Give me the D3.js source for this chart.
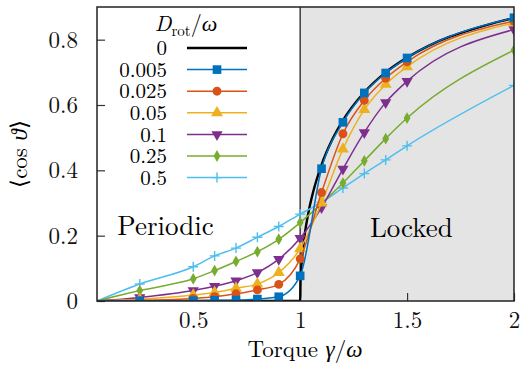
<!DOCTYPE html>
<html>
<head>
<meta charset="utf-8">
<script src="https://cdn.jsdelivr.net/npm/d3@7"></script>
<style>
  body { margin: 0; background: #fff; }
</style>
</head>
<body>
<div id="chart"></div>
<script>
// torque values where the markers sit
const torque = [0.05, 0.25, 0.5, 0.6, 0.7, 0.8, 0.9, 1.0, 1.1, 1.2, 1.3, 1.4, 1.5, 2.0];

const dLabels = ["0.005", "0.025", "0.05", "0.1", "0.25", "0.5"];
const d0005 = [0, 0.000, 0.001, 0.002, 0.003, 0.006, 0.013, 0.077, 0.405, 0.547, 0.637, 0.698, 0.744, 0.867];
const d0025 = [0, 0.002, 0.008, 0.013, 0.022, 0.034, 0.051, 0.129, 0.332, 0.512, 0.614, 0.682, 0.732, 0.857];
const d005  = [0, 0.005, 0.018, 0.026, 0.039, 0.052, 0.087, 0.160, 0.300, 0.465, 0.586, 0.663, 0.717, 0.852];
const d01   = [0, 0.011, 0.032, 0.045, 0.062, 0.087, 0.128, 0.192, 0.286, 0.404, 0.516, 0.608, 0.673, 0.831];
const d025  = [0, 0.032, 0.068, 0.093, 0.121, 0.151, 0.189, 0.240, 0.298, 0.361, 0.429, 0.497, 0.560, 0.768];
const d05   = [0, 0.052, 0.105, 0.138, 0.162, 0.195, 0.228, 0.266, 0.302, 0.346, 0.390, 0.432, 0.475, 0.660];

// noiseless curve (D_rot = 0)
const torqueDet = [0.05, 1.0, 1.002, 1.005, 1.01, 1.02, 1.04, 1.06, 1.1, 1.15, 1.2, 1.3, 1.4, 1.5, 1.6, 1.7, 1.8, 1.9, 2.0];
const cosDet    = [0, 0, 0.063, 0.100, 0.140, 0.197, 0.275, 0.332, 0.417, 0.494, 0.553, 0.639, 0.700, 0.745, 0.781, 0.809, 0.831, 0.850, 0.866];

const xTicks = [0.5, 1, 1.5, 2];
const yTicks = [0, 0.2, 0.4, 0.6, 0.8];

const colors = ["#0072BD", "#D95319", "#EDB120", "#7E2F8E", "#77AC30", "#4DBEEE"];
const symbols = [d3.symbolSquare, d3.symbolCircle, d3.symbolTriangle, "down", d3.symbolDiamond, "plus"];
const series = [d0005, d0025, d005, d01, d025, d05];

const FONT = "\"Latin Modern Roman\", \"Liberation Serif\", serif";
const W = 520, H = 365;
const margin = { top: 7, right: 6, bottom: 64, left: 97 };
const width = W - margin.left - margin.right;
const height = H - margin.top - margin.bottom;

const svg = d3.select("#chart").append("svg")
    .attr("width", W).attr("height", H)
    .attr("font-family", FONT);
const g = svg.append("g")
    .attr("transform", `translate(${margin.left},${margin.top})`);

const x = d3.scaleLinear().domain([0.05, 2]).range([0, width]);
const y = d3.scaleLinear().domain([0, 0.9]).range([height, 0]);

svg.append("defs").append("clipPath").attr("id", "clip")
    .append("rect").attr("width", width).attr("height", height);

// locked region
g.append("rect")
    .attr("x", x(1)).attr("y", 0)
    .attr("width", x(2) - x(1)).attr("height", height)
    .attr("fill", "#e4e4e4");
g.append("line")
    .attr("x1", x(1)).attr("x2", x(1)).attr("y1", 0).attr("y2", height)
    .attr("stroke", "#222").attr("stroke-width", 1.3);

// axes, ticks pointing inward
const xAxis = g.append("g").attr("transform", `translate(0,${height})`)
    .call(d3.axisBottom(x).tickValues(xTicks).tickSizeInner(-8).tickSizeOuter(0).tickPadding(11)
        .tickFormat(d => String(d)));
const yAxis = g.append("g")
    .call(d3.axisLeft(y).tickValues(yTicks).tickSizeInner(-8).tickSizeOuter(0).tickPadding(19)
        .tickFormat(d => String(d)));
[xAxis, yAxis].forEach(a => {
    a.attr("font-family", FONT).attr("font-size", 23);
    a.select(".domain").remove();
    a.selectAll(".tick line").attr("stroke", "#333").attr("stroke-width", 1.2);
    a.selectAll(".tick text").attr("fill", "#111");
});
xAxis.selectAll(".tick text").attr("dy", "0.71em");

function marker(sel, type, color) {
    if (type === "plus") {
        sel.append("path").attr("d", "M-5,0H5M0,-5V5")
            .attr("stroke", color).attr("stroke-width", 1.4).attr("fill", "none");
    } else if (type === "down") {
        sel.append("path").attr("d", d3.symbol(d3.symbolTriangle, 55)())
            .attr("transform", "rotate(180)").attr("fill", color);
    } else {
        const size = type === d3.symbolSquare ? 75 : type === d3.symbolDiamond ? 40 : 62;
        sel.append("path").attr("d", d3.symbol(type, size)()).attr("fill", color);
    }
}

const plot = g.append("g").attr("clip-path", "url(#clip)");
const line = d3.line().curve(d3.curveMonotoneX).x(d => x(d[0])).y(d => y(d[1]));

// black reference curve first
plot.append("path")
    .datum(torqueDet.map((t, i) => [t, cosDet[i]]))
    .attr("d", line).attr("fill", "none")
    .attr("stroke", "#000").attr("stroke-width", 2.4);

series.slice().reverse().forEach((vals, ri) => {
    const i = series.length - 1 - ri;
    const pts = torque.map((t, k) => [t, vals[k]]);
    plot.append("path").datum(pts).attr("d", line)
        .attr("fill", "none").attr("stroke", colors[i]).attr("stroke-width", 1.5);
    plot.selectAll(null).data(pts.slice(1)).enter().append("g")
        .attr("transform", d => `translate(${x(d[0])},${y(d[1])})`)
        .each(function () { marker(d3.select(this), symbols[i], colors[i]); });
});

// frame
g.append("rect").attr("width", width).attr("height", height)
    .attr("fill", "none").attr("stroke", "#222").attr("stroke-width", 1.5);

// legend
const leg = svg.append("g");
const title = leg.append("text").attr("x", 186).attr("y", 31)
    .attr("text-anchor", "middle").attr("font-size", 22);
title.append("tspan").attr("font-style", "italic").text("D");
title.append("tspan").attr("dy", 5).attr("font-size", 15).text("rot");
title.append("tspan").attr("dy", -5).text("/");
title.append("tspan").attr("font-style", "italic").text("ω");

const legRows = ["0"].concat(dLabels);
legRows.forEach((lab, i) => {
    const yy = 48 + i * 21.6;
    leg.append("text").attr("x", 167).attr("y", yy).attr("dy", "0.34em")
        .attr("text-anchor", "end").attr("font-size", 21).text(lab);
    leg.append("line").attr("x1", 187).attr("x2", 247).attr("y1", yy).attr("y2", yy)
        .attr("stroke", i === 0 ? "#000" : colors[i - 1])
        .attr("stroke-width", i === 0 ? 2.4 : 1.5);
    if (i > 0) {
        const m = leg.append("g").attr("transform", `translate(217,${yy})`);
        marker(m, symbols[i - 1], colors[i - 1]);
    }
});

// region labels
g.append("text").attr("x", x(0.145)).attr("y", 228)
    .attr("font-size", 27).text("Periodic");
g.append("text").attr("x", x(1.52)).attr("y", 230)
    .attr("text-anchor", "middle").attr("font-size", 27).text("Locked");

// axis titles
const xt = svg.append("text").attr("x", 305).attr("y", 357)
    .attr("text-anchor", "middle").attr("font-size", 23);
xt.append("tspan").text("Torque ");
xt.append("tspan").attr("font-style", "italic").text("γ");
xt.append("tspan").text("/");
xt.append("tspan").attr("font-style", "italic").text("ω");

const yt = svg.append("text")
    .attr("transform", "translate(27,154) rotate(-90)")
    .attr("text-anchor", "middle").attr("font-size", 23);
yt.append("tspan").text("⟨cos ");
yt.append("tspan").attr("font-style", "italic").text("ϑ");
yt.append("tspan").text("⟩");
</script>
</body>
</html>
